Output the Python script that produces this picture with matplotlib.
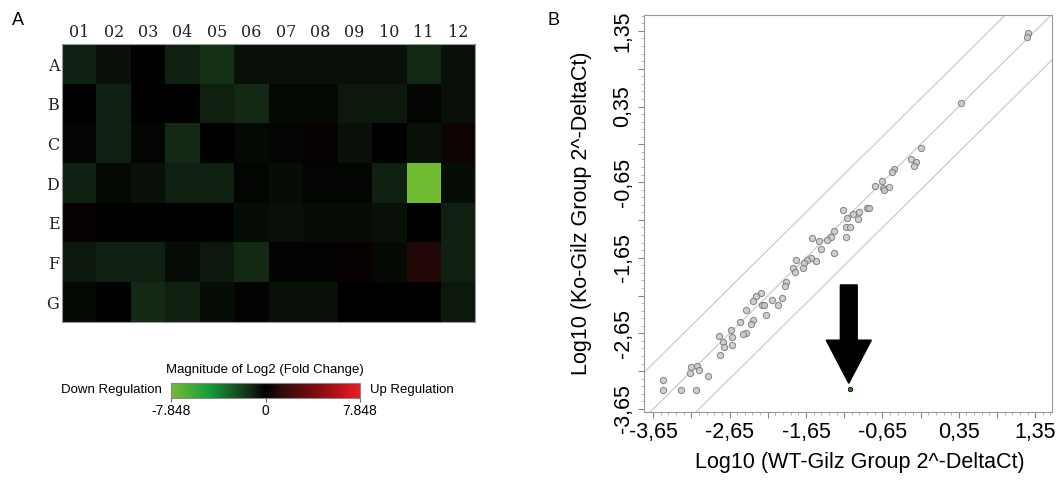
import numpy as np
import matplotlib
matplotlib.use('Agg')
import matplotlib.pyplot as plt
from matplotlib.colors import LinearSegmentedColormap

plt.rcParams['font.family'] = ['Liberation Sans', 'DejaVu Sans']

# ---- panel A: log2 fold change per well ----
plate_cols = ['01', '02', '03', '04', '05', '06', '07', '08', '09', '10', '11', '12']
plate_rows = ['A', 'B', 'C', 'D', 'E', 'F', 'G']
fold_log2 = [
    [-1.0, -0.5, 0.0, -1.0, -1.5, -0.5, -0.5, -0.5, -0.5, -0.5, -1.25, -0.5],
    [0.0, -1.0, 0.0, 0.0, -1.0, -1.25, -0.25, -0.25, -0.75, -0.75, -0.15, -0.5],
    [-0.15, -1.0, -0.15, -1.25, 0.0, -0.25, -0.15, 0.2, -0.5, 0.0, -0.5, 0.4],
    [-1.0, -0.25, -0.5, -1.0, -1.0, -0.15, -0.4, -0.15, -0.15, -1.0, -7.848, -0.4],
    [0.2, 0.0, 0.0, 0.0, 0.0, -0.4, -0.5, -0.4, -0.4, -0.5, 0.0, -1.0],
    [-0.75, -1.0, -1.0, -0.4, -0.75, -1.25, -0.1, -0.1, 0.2, -0.25, 1.0, -1.0],
    [-0.25, 0.0, -1.25, -1.0, -0.4, -0.1, -0.5, -0.5, 0.0, 0.0, 0.0, -0.75],
]
fc_limit = 7.848

# ---- panel B: scatter of log10 2^-DeltaCt ----
wt_x = [1.25, 1.24, 0.38, -0.15, -0.28, -0.21, -0.24, -0.50, -0.52,
        -0.66, -0.75, -0.64, -0.57, -0.63,
        -0.85, -0.83, -0.96, -1.04, -0.97, -1.11, -1.16, -1.12, -1.07, -1.13,
        -1.28, -1.32, -1.37, -1.48, -1.57, -1.45, -1.28,
        -1.52, -1.59, -1.64, -1.68, -1.78, -1.82, -1.79, -1.69,
        -1.91, -1.92,
        -2.24, -2.31, -2.34, -2.22, -2.20, -2.09, -1.97, -2.02, -2.17,
        -2.44, -2.52, -2.63, -2.34, -2.37, -2.44, -2.48, -2.79, -2.73, -2.72, -2.62, -2.62, -2.77,
        -3.15, -3.08, -3.05, -3.17, -2.93,
        -3.52, -3.52, -3.29, -3.09]
ko_y = [1.32, 1.27, 0.40, -0.20, -0.34, -0.39, -0.44, -0.48, -0.52,
        -0.64, -0.70, -0.73, -0.71, -0.76,
        -0.99, -0.99, -1.04, -1.07, -1.14, -1.12, -1.02, -1.24, -1.24, -1.37,
        -1.30, -1.38, -1.41, -1.43, -1.39, -1.53, -1.59,
        -1.69, -1.66, -1.68, -1.72, -1.68, -1.79, -1.84, -1.78,
        -1.97, -2.02,
        -2.11, -2.16, -2.22, -2.27, -2.27, -2.21, -2.18, -2.28, -2.41,
        -2.34, -2.50, -2.61, -2.47, -2.52, -2.65, -2.66, -2.68, -2.76, -2.83, -2.80, -2.70, -2.93,
        -3.09, -3.08, -3.13, -3.18, -3.21,
        -3.27, -3.40, -3.40, -3.40]
gilz_x = [-1.08]
gilz_y = [-3.39]
boundary = 0.602  # log10(4)
tick_vals = [-3.65, -2.65, -1.65, -0.65, 0.35, 1.35]
tick_text = ['-3,65', '-2,65', '-1,65', '-0,65', '0,35', '1,35']

fig = plt.figure(figsize=(10.62, 4.8), dpi=100)

# heatmap
ax1 = fig.add_axes([0.0584, 0.329, 0.389, 0.579])
cmap = LinearSegmentedColormap.from_list('gbr', [
    (0.0, (0.45, 0.74, 0.20)),
    (0.2, (0.08, 0.62, 0.24)),
    (0.42, (0.08, 0.16, 0.08)),
    (0.5, (0.0, 0.0, 0.0)),
    (0.58, (0.17, 0.04, 0.04)),
    (0.8, (0.55, 0.05, 0.07)),
    (1.0, (0.93, 0.11, 0.14))])
ax1.imshow(np.array(fold_log2), cmap=cmap, vmin=-fc_limit, vmax=fc_limit,
           aspect='auto', interpolation='nearest')
ax1.set_xticks(range(len(plate_cols)))
ax1.set_xticklabels(plate_cols)
ax1.set_yticks(range(len(plate_rows)))
ax1.set_yticklabels(plate_rows)
ax1.xaxis.tick_top()
ax1.tick_params(length=0, pad=2)
for lab in ax1.get_xticklabels() + ax1.get_yticklabels():
    lab.set_family('DejaVu Serif')
    lab.set_fontsize(11.5)
    lab.set_color('#222222')
for s in ax1.spines.values():
    s.set_color('#999999')
    s.set_linewidth(0.8)

# colorbar
cax = fig.add_axes([171 / 1062, 1 - 398 / 480, 189 / 1062, 15 / 480])
cb = fig.colorbar(plt.cm.ScalarMappable(cmap=cmap, norm=plt.Normalize(-fc_limit, fc_limit)),
                  cax=cax, orientation='horizontal')
cb.set_ticks([-fc_limit, 0, fc_limit])
cb.set_ticklabels(['-7.848', '0', '7.848'])
cb.outline.set_edgecolor('#888888')
cb.outline.set_linewidth(0.8)
cax.tick_params(length=3, labelsize=10, pad=1, color='#666666')
fig.text(265 / 1062, 1 - 370 / 480, 'Magnitude of Log2 (Fold Change)',
         ha='center', va='center', fontsize=9.5)
fig.text(162 / 1062, 1 - 390 / 480, 'Down Regulation', ha='right', va='center', fontsize=9.5)
fig.text(370 / 1062, 1 - 390 / 480, 'Up Regulation', ha='left', va='center', fontsize=9.5)

# scatter
ax2 = fig.add_axes([0.6064, 0.1417, 0.3842, 0.827])
ax2.set_xlim(-3.77, 1.57)
ax2.set_ylim(-3.69, 1.56)
for off in (-boundary, 0.0, boundary):
    ax2.axline((0, off), slope=1, color='#d0d0d0', lw=1.0, zorder=1)
ax2.scatter(wt_x, ko_y, s=20, facecolor='#c8c8c8', edgecolor='#7a7a7a',
            linewidth=0.8, alpha=0.85, zorder=3)
ax2.scatter(gilz_x, gilz_y, s=10, facecolor='#3a8a20', edgecolor='black',
            linewidth=0.6, zorder=4)
ax2.arrow(-1.09, -2.01, 0, -1.30, width=0.22, head_width=0.59, head_length=0.57,
          length_includes_head=True, fc='black', ec='black', zorder=5)

half_ticks = np.arange(-3.65, 1.36, 0.5)
minor_ticks = np.arange(-3.65, 1.56, 0.1)
for axis in (ax2.xaxis, ax2.yaxis):
    axis.set_ticks(half_ticks)
    axis.set_ticklabels([tick_text[tick_vals.index(round(v, 2))] if round(v, 2) in tick_vals else ''
                         for v in half_ticks])
    axis.set_ticks(minor_ticks, minor=True)
ax2.tick_params(which='major', length=4, width=0.8, color='#888888', labelsize=15.5)
ax2.tick_params(which='minor', length=2, width=0.6, color='#aaaaaa')
for lab in ax2.get_yticklabels():
    lab.set_rotation(90)
    lab.set_va('center')
for s in ax2.spines.values():
    s.set_color('#999999')
    s.set_linewidth(0.8)
ax2.set_xlabel('Log10 (WT-Gilz Group 2^-DeltaCt)', fontsize=15.5)
ax2.set_ylabel('Log10 (Ko-Gilz Group 2^-DeltaCt)', fontsize=15.5, labelpad=15)
ax2.xaxis.set_label_coords(0.53, -0.128)
ax2.xaxis.label.set_va('center')

fig.text(0.011, 0.958, 'A', fontsize=13, va='center')
fig.text(0.516, 0.958, 'B', fontsize=13, va='center')

fig.savefig('out.png', dpi=100)
